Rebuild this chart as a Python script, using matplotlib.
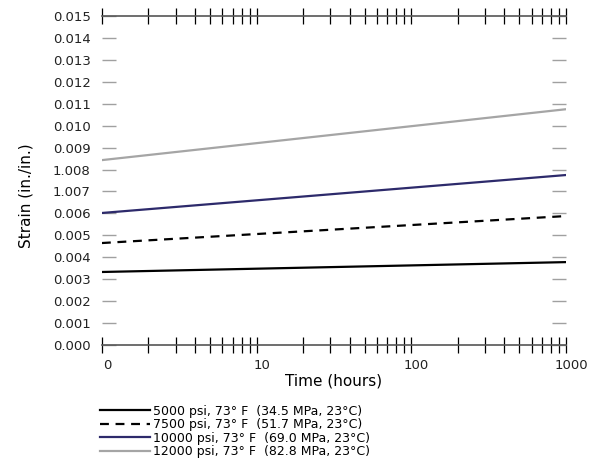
import matplotlib.pyplot as plt
from matplotlib.ticker import FixedLocator, LogLocator, NullFormatter
from matplotlib.transforms import ScaledTranslation

plt.rcParams['font.family'] = ['DejaVu Sans']

# data (strain at 1 h and 1000 h)
hours = [1, 1000]
strain_5000 = [0.00333, 0.00378]
strain_7500 = [0.00465, 0.00588]
strain_10000 = [0.00602, 0.00775]
strain_12000 = [0.00843, 0.01075]

labels = ['5000 psi, 73° F  (34.5 MPa, 23°C)',
          '7500 psi, 73° F  (51.7 MPa, 23°C)',
          '10000 psi, 73° F  (69.0 MPa, 23°C)',
          '12000 psi, 73° F  (82.8 MPa, 23°C)']
yticks = [i / 1000 for i in range(16)]
ytick_labels = ['0.000', '0.001', '0.002', '0.003', '0.004', '0.005', '0.006',
                '1.007', '1.008', '0.009', '0.010', '0.011', '0.012', '0.013',
                '0.014', '0.015']
xticks = [1, 10, 100, 1000]
xtick_labels = ['0', '10', '100', '1000']

fig = plt.figure(figsize=(6.03, 4.65), dpi=100)
ax = fig.add_axes([0.169, 0.258, 0.7696, 0.7076])

ax.plot(hours, strain_5000, color='black', lw=1.6, label=labels[0])
ax.plot(hours, strain_7500, color='black', lw=1.6, ls=(0, (4, 3)), label=labels[1])
ax.plot(hours, strain_10000, color='#2d2a6b', lw=1.6, label=labels[2])
ax.plot(hours, strain_12000, color='#a5a5a5', lw=1.6, label=labels[3])

ax.set_xscale('log')
ax.set_xlim(1, 1000)
ax.set_ylim(0, 0.015)

ax.xaxis.set_major_locator(FixedLocator(xticks))
ax.set_xticklabels(xtick_labels)
ax.xaxis.set_minor_locator(LogLocator(base=10, subs=range(2, 10)))
ax.xaxis.set_minor_formatter(NullFormatter())
ax.tick_params(axis='x', which='both', direction='inout', length=11.5, width=0.9,
               color='black', top=True, bottom=True, labelsize=9.5, pad=4,
               labelcolor='#222222')
shift = ScaledTranslation(5 / 100, 0, fig.dpi_scale_trans)
for lab in ax.get_xticklabels():
    lab.set_transform(lab.get_transform() + shift)

ax.set_yticks(yticks)
ax.set_yticklabels(ytick_labels)
ax.tick_params(axis='y', direction='in', length=10, width=1.0, color='#a0a0a0',
               left=True, right=True, labelsize=9.5, pad=8, labelcolor='#222222')

ax.spines['left'].set_visible(False)
ax.spines['right'].set_visible(False)
for s in ['top', 'bottom']:
    ax.spines[s].set_color('#555555')
    ax.spines[s].set_linewidth(1.2)

ax.set_xlabel('Time (hours)', fontsize=11)
ax.xaxis.set_label_coords(0.5, -0.088)
ax.set_ylabel('Strain (in./in.)', fontsize=11)
ax.yaxis.set_label_coords(-0.148, 0.453)

fig.legend(loc='upper left', bbox_to_anchor=(0.166, 0.13), frameon=False,
           fontsize=9, handlelength=4.0, handletextpad=0.25, labelspacing=0.05,
           borderpad=0, borderaxespad=0, bbox_transform=fig.transFigure)

fig.savefig('out.png', dpi=100)
